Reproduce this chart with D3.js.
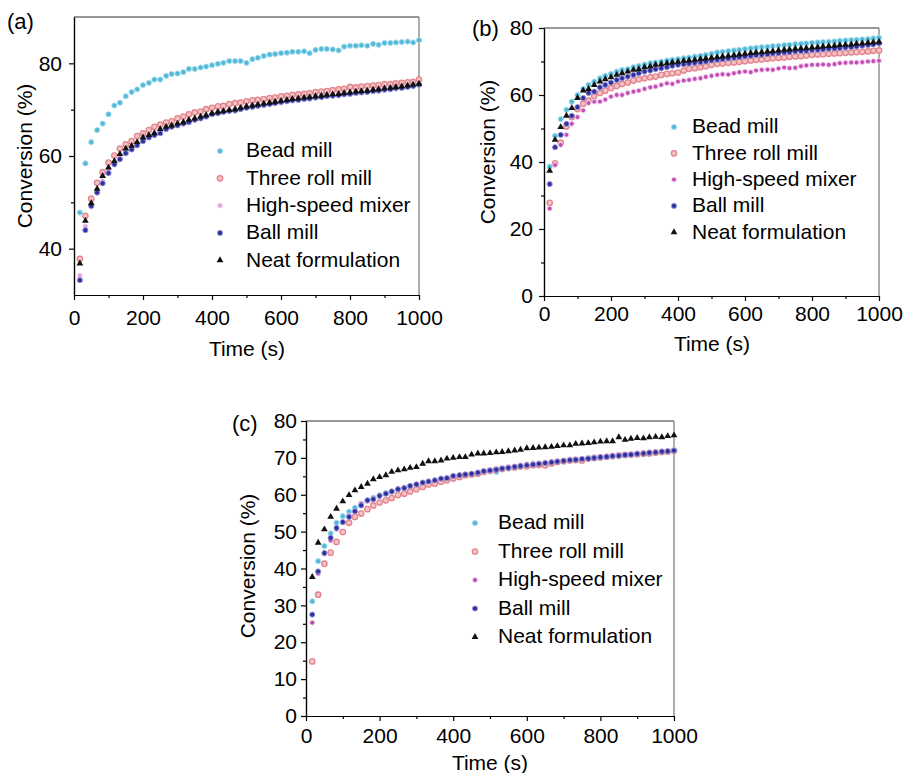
<!DOCTYPE html>
<html>
<head>
<meta charset="utf-8">
<script src="https://cdn.jsdelivr.net/npm/d3@7"></script>
<style>
  body { margin: 0; background: #fff; }
  svg { font-family: "Liberation Sans", Arial, Helvetica, sans-serif; }
  .axis path, .axis line { stroke: #000; stroke-width: 1.2; }
  .axis text { font-size: 21px; fill: #000; font-family: "Liberation Sans", Arial, sans-serif; }
</style>
</head>
<body>
<svg width="909" height="773"></svg>
<script>
// sampling times (s), shared by every series
var times = [17, 33, 50, 67, 83, 100, 117, 133, 150, 167, 183, 200, 217, 233, 250, 267, 283, 300, 317, 333,
  350, 367, 383, 400, 417, 433, 450, 467, 483, 500, 517, 533, 550, 567, 583, 600, 617, 633, 650, 667,
  683, 700, 717, 733, 750, 767, 783, 800, 817, 833, 850, 867, 883, 900, 917, 933, 950, 967, 983, 1000];

var seriesNames = ["Bead mill", "Three roll mill", "High-speed mixer", "Ball mill", "Neat formulation"];

// panel (a)
var aBead = [47.8, 58.4, 63.0, 65.6, 67.0, 69.0, 70.9, 71.5, 72.9, 73.8,
  74.4, 75.3, 75.8, 76.5, 76.5, 77.3, 77.7, 77.8, 78.1, 78.8,
  78.8, 79.1, 79.3, 79.6, 79.9, 80.1, 80.5, 80.5, 80.5, 80.1,
  80.9, 81.2, 81.6, 81.9, 82.0, 82.2, 82.3, 82.5, 82.5, 82.6,
  82.2, 82.9, 83.1, 83.1, 83.0, 82.8, 83.6, 83.8, 83.8, 83.9,
  83.8, 84.2, 84.0, 84.4, 84.4, 84.5, 84.6, 84.7, 84.5, 85.0];
var aThreeRoll = [37.8, 47.1, 50.8, 54.2, 56.5, 58.6, 60.1, 61.6, 62.5, 63.2,
  64.3, 64.9, 65.6, 66.3, 66.8, 67.2, 67.5, 68.1, 68.5, 69.0,
  69.4, 69.6, 70.1, 70.4, 70.7, 70.8, 71.2, 71.4, 71.5, 71.8,
  72.0, 72.1, 72.3, 72.5, 72.6, 72.9, 73.0, 73.2, 73.3, 73.4,
  73.6, 73.8, 73.9, 74.0, 74.2, 74.4, 74.5, 74.9, 74.8, 75.0,
  75.1, 75.2, 75.3, 75.5, 75.5, 75.7, 75.8, 75.9, 76.0, 76.5];
var aHighSpeed = [34.2, 44.8, 49.5, 52.4, 54.6, 56.8, 58.5, 59.6, 61.0, 61.8,
  62.6, 63.5, 64.2, 64.7, 65.3, 66.0, 66.4, 66.8, 67.1, 67.5,
  67.9, 68.3, 68.6, 69.1, 69.3, 69.6, 69.8, 70.0, 70.2, 70.5,
  70.7, 70.9, 71.1, 71.3, 71.5, 71.7, 71.9, 72.1, 72.2, 72.4,
  72.5, 72.7, 72.8, 73.0, 73.1, 73.3, 73.4, 73.6, 73.7, 73.9,
  74.0, 74.1, 74.3, 74.4, 74.6, 74.7, 74.9, 75.0, 75.2, 75.5];
var aBall = [33.2, 44.0, 49.2, 52.1, 54.1, 56.3, 58.2, 59.3, 60.6, 61.4,
  62.3, 63.2, 64.0, 64.5, 64.9, 65.8, 66.3, 66.6, 67.0, 67.3,
  67.8, 68.1, 68.5, 69.0, 69.2, 69.5, 69.7, 69.8, 70.1, 70.4,
  70.6, 70.8, 71.0, 71.2, 71.4, 71.6, 71.8, 72.0, 72.1, 72.3,
  72.4, 72.6, 72.7, 72.9, 73.0, 73.1, 73.3, 73.4, 73.6, 73.7,
  73.8, 74.0, 74.1, 74.3, 74.4, 74.6, 74.7, 74.9, 75.1, 75.4];
var aNeat = [36.8, 46.0, 49.8, 52.9, 55.7, 57.5, 58.9, 60.4, 61.6, 62.2,
  63.0, 64.0, 64.5, 64.9, 65.8, 66.3, 66.6, 67.0, 67.3, 67.8,
  68.1, 68.5, 68.8, 69.2, 69.5, 69.7, 69.9, 70.1, 70.4, 70.7,
  70.9, 71.1, 71.3, 71.5, 71.7, 71.9, 72.1, 72.3, 72.4, 72.6,
  72.7, 72.9, 73.0, 73.2, 73.3, 73.4, 73.6, 73.7, 73.9, 74.0,
  74.1, 74.3, 74.4, 74.6, 74.7, 74.9, 75.0, 75.2, 75.4, 75.6];

// panel (b)
var bBead = [38.6, 47.8, 52.8, 55.6, 58.0, 60.0, 61.8, 63.0, 64.0, 65.0,
  65.7, 66.3, 67.0, 67.5, 67.7, 68.3, 68.7, 69.1, 69.5, 69.7,
  70.0, 70.3, 70.5, 70.7, 71.0, 71.2, 71.5, 71.7, 72.0, 72.3,
  72.7, 72.9, 73.1, 73.3, 73.5, 73.7, 73.9, 74.1, 74.3, 74.4,
  74.6, 74.7, 74.9, 75.0, 75.2, 75.3, 75.4, 75.6, 75.7, 75.8,
  75.9, 76.0, 76.2, 76.3, 76.4, 76.5, 76.6, 76.7, 76.9, 77.1];
var bThreeRoll = [27.8, 39.6, 45.8, 50.6, 53.4, 55.8, 57.4, 58.3, 59.7, 60.6,
  61.3, 62.1, 62.7, 63.3, 63.7, 64.3, 64.7, 65.0, 65.3, 65.5,
  66.0, 66.3, 66.5, 66.7, 67.3, 67.8, 68.0, 68.3, 68.6, 69.0,
  69.3, 69.4, 69.6, 69.7, 69.9, 70.1, 70.3, 70.5, 70.6, 70.8,
  71.0, 71.1, 71.2, 71.4, 71.5, 71.6, 71.8, 72.0, 72.1, 72.2,
  72.3, 72.4, 72.5, 72.6, 72.7, 72.8, 72.9, 73.0, 73.2, 73.3];
var bHighSpeed = [26.1, 39.1, 45.1, 48.1, 51.4, 53.4, 55.4, 57.6, 58.0, 58.0,
  58.6, 59.5, 60.0, 60.0, 60.6, 61.0, 61.3, 61.8, 62.3, 62.5,
  63.0, 63.5, 63.3, 64.0, 64.3, 64.5, 64.8, 65.0, 65.4, 65.7,
  66.0, 66.2, 66.1, 66.5, 66.8, 67.0, 66.8, 67.3, 67.5, 67.6,
  67.5, 67.9, 68.2, 68.0, 68.1, 68.6, 68.8, 69.0, 69.0, 69.1,
  69.0, 69.2, 69.5, 69.6, 69.7, 69.7, 69.8, 70.0, 70.1, 70.2];
var bBall = [33.4, 44.4, 48.1, 51.4, 53.8, 56.4, 59.1, 60.6, 61.0, 62.3,
  63.0, 63.7, 64.5, 65.0, 65.5, 66.0, 66.5, 67.0, 67.3, 67.7,
  68.0, 68.3, 68.7, 69.0, 69.2, 69.4, 69.6, 69.8, 70.0, 70.3,
  70.5, 70.7, 70.9, 71.1, 71.3, 71.5, 71.7, 71.9, 72.0, 72.2,
  72.4, 72.5, 72.7, 72.8, 73.0, 73.1, 73.2, 73.4, 73.5, 73.6,
  73.8, 73.9, 74.0, 74.2, 74.3, 74.5, 74.7, 74.9, 75.1, 75.4];
var bNeat = [37.4, 46.6, 50.4, 53.8, 56.1, 59.1, 61.3, 61.8, 63.0, 64.0,
  64.7, 65.3, 66.0, 66.5, 67.0, 67.5, 67.7, 68.3, 68.5, 69.0,
  69.2, 69.5, 69.7, 69.9, 70.2, 70.3, 70.5, 70.7, 70.9, 71.1,
  71.3, 71.5, 71.7, 71.9, 72.1, 72.3, 72.5, 72.7, 72.8, 73.0,
  73.1, 73.3, 73.5, 73.6, 73.8, 73.9, 74.0, 74.2, 74.3, 74.5,
  74.6, 74.7, 74.9, 75.0, 75.1, 75.3, 75.4, 75.6, 75.7, 75.9];

// panel (c)
var cBead = [31.1, 42.0, 46.1, 49.5, 52.4, 54.2, 55.4, 56.5, 57.6, 58.4,
  59.2, 59.9, 60.5, 60.8, 61.4, 61.9, 62.3, 62.7, 63.1, 63.5,
  63.9, 64.2, 64.5, 64.8, 65.0, 65.3, 65.6, 66.0, 66.3, 66.5,
  66.2, 67.0, 67.1, 67.4, 67.5, 67.9, 68.0, 68.3, 68.5, 68.7,
  68.9, 69.1, 69.3, 69.4, 69.6, 69.8, 69.9, 70.1, 70.2, 70.4,
  70.5, 70.7, 70.8, 71.0, 71.1, 71.3, 71.4, 71.5, 71.7, 71.9];
var cThreeRoll = [14.8, 32.9, 41.3, 44.3, 47.2, 49.9, 52.4, 54.0, 54.9, 56.1,
  57.1, 57.9, 58.5, 59.1, 59.9, 60.3, 60.9, 61.5, 62.1, 62.8,
  63.0, 63.5, 63.9, 64.4, 64.8, 65.3, 65.5, 65.7, 66.2, 66.5,
  66.8, 67.0, 67.3, 67.4, 67.7, 67.7, 68.0, 68.1, 68.0, 68.5,
  68.9, 69.1, 69.3, 69.4, 69.3, 69.8, 70.0, 70.1, 70.3, 70.5,
  70.7, 70.8, 70.9, 71.0, 71.1, 71.2, 71.4, 71.6, 71.7, 71.9];
var cHighSpeed = [25.3, 38.6, 44.0, 47.6, 50.6, 52.4, 54.4, 55.5, 57.6, 58.2,
  58.9, 59.6, 60.4, 60.9, 61.6, 62.0, 62.4, 62.9, 63.2, 63.7,
  64.0, 64.3, 64.6, 65.0, 65.2, 65.5, 65.8, 66.1, 66.3, 66.7,
  66.9, 67.3, 67.5, 67.7, 68.0, 68.3, 68.5, 68.6, 68.8, 69.0,
  69.2, 69.3, 69.6, 69.7, 69.8, 70.0, 70.2, 70.3, 70.5, 70.7,
  70.8, 71.0, 71.1, 71.3, 71.4, 71.6, 71.7, 71.8, 72.0, 72.2];
var cBall = [27.5, 39.2, 44.2, 48.3, 51.0, 52.6, 54.0, 55.5, 57.1, 58.5,
  58.8, 59.7, 60.3, 60.9, 61.5, 61.8, 62.4, 62.8, 63.3, 63.6,
  63.9, 64.4, 64.5, 65.1, 65.3, 65.5, 65.7, 66.0, 66.4, 66.6,
  66.8, 67.1, 67.3, 67.6, 67.8, 68.0, 68.2, 68.4, 68.6, 68.8,
  69.0, 69.2, 69.4, 69.5, 69.7, 69.8, 70.0, 70.2, 70.3, 70.5,
  70.6, 70.8, 70.9, 71.1, 71.2, 71.4, 71.5, 71.7, 71.8, 72.0];
var cNeat = [37.7, 47.0, 50.6, 54.0, 56.2, 58.2, 59.9, 61.2, 62.1, 63.0,
  64.2, 64.8, 65.3, 66.2, 66.6, 66.9, 67.3, 67.5, 68.4, 69.1,
  69.1, 69.3, 69.8, 70.0, 70.2, 70.2, 70.9, 71.2, 71.2, 71.3,
  71.5, 71.6, 71.8, 72.0, 72.2, 72.6, 72.7, 72.8, 72.9, 73.0,
  73.2, 73.4, 73.4, 73.8, 73.9, 74.0, 74.2, 74.4, 74.5, 74.5,
  75.6, 74.9, 75.2, 75.4, 75.3, 75.6, 75.7, 75.6, 75.9, 76.1];

var xMajor = [0, 200, 400, 600, 800, 1000],
    xMinor = [100, 300, 500, 700, 900];

var panels = [
  { tag: "(a)", series: [aBead, aThreeRoll, aHighSpeed, aBall, aNeat],
    yDomain: [30, 90], yMajor: [40, 60, 80], yMinor: [50, 70],
    left: 74, right: 419, top: 17, bottom: 295, xPad: 10, yPad: 7, hsColor: "#e6a3da",
    tagPos: [7, 29], yTitle: [25, 156], xTitle: [247, 356],
    legend: { mx: 220, tx: 246, y0: 151, dy: 27.3 } },
  { tag: "(b)", series: [bBead, bThreeRoll, bHighSpeed, bBall, bNeat],
    yDomain: [0, 80], yMajor: [0, 20, 40, 60, 80], yMinor: [10, 30, 50, 70],
    left: 544, right: 879, top: 28, bottom: 296, xPad: 5, yPad: 6, hsColor: "#c24db6",
    tagPos: [472, 36], yTitle: [488, 152], xTitle: [712, 351],
    legend: { mx: 674, tx: 692, y0: 127, dy: 26.3 } },
  { tag: "(c)", series: [cBead, cThreeRoll, cHighSpeed, cBall, cNeat],
    yDomain: [0, 80], yMajor: [0, 10, 20, 30, 40, 50, 60, 70, 80], yMinor: [5, 15, 25, 35, 45, 55, 65, 75],
    left: 306, right: 674, top: 421, bottom: 716, xPad: 7, yPad: 4, hsColor: "#bf45b2",
    tagPos: [232, 431], yTitle: [248, 566], xTitle: [490, 770],
    legend: { mx: 475, tx: 498, y0: 523, dy: 28.5 } }
];

var svg = d3.select("svg");

function drawMarker(sel, k, p) {
  // k: series index
  if (k == 4) {
    sel.append("path")
      .attr("d", d3.symbol().type(d3.symbolTriangle).size(20))
      .style("fill", "#111");
  } else if (k == 0) {
    sel.append("circle").attr("r", 2.6)
      .style("fill", "#52bad9").style("stroke", "#a9dcec").style("stroke-width", 0.9);
  } else if (k == 1) {
    sel.append("circle").attr("r", 2.7)
      .style("fill", "#f5c3c6").style("stroke", "#e2858c").style("stroke-width", 1.3);
  } else if (k == 2) {
    sel.append("circle").attr("r", 2.4)
      .style("fill", p.hsColor).style("stroke", "#f0d0ec").style("stroke-width", 0.9);
  } else {
    sel.append("circle").attr("r", 2.6)
      .style("fill", "#2f2fa2").style("stroke", "#9c9cd6").style("stroke-width", 0.9);
  }
}

panels.forEach(function (p) {
  var x = d3.scaleLinear().domain([0, 1000]).range([p.left, p.right]),
      y = d3.scaleLinear().domain(p.yDomain).range([p.bottom, p.top]);

  var g = svg.append("g");

  // frame top and right
  g.append("line").attr("x1", p.left).attr("x2", p.right).attr("y1", p.top).attr("y2", p.top)
    .style("stroke", "#333").style("stroke-width", 1.2);
  g.append("line").attr("x1", p.right).attr("x2", p.right).attr("y1", p.top).attr("y2", p.bottom)
    .style("stroke", "#777").style("stroke-width", 1.2);

  // minor ticks
  g.append("g").attr("class", "axis")
    .attr("transform", "translate(0," + p.bottom + ")")
    .call(d3.axisBottom(x).tickValues(xMinor).tickSize(3).tickSizeOuter(0).tickFormat(""));
  g.append("g").attr("class", "axis")
    .attr("transform", "translate(" + p.left + ",0)")
    .call(d3.axisLeft(y).tickValues(p.yMinor).tickSize(3).tickSizeOuter(0).tickFormat(""));

  // major ticks + labels
  g.append("g").attr("class", "axis")
    .attr("transform", "translate(0," + p.bottom + ")")
    .call(d3.axisBottom(x).tickValues(xMajor).tickSize(5).tickSizeOuter(0)
      .tickPadding(p.xPad).tickFormat(d3.format("d")));
  g.append("g").attr("class", "axis")
    .attr("transform", "translate(" + p.left + ",0)")
    .call(d3.axisLeft(y).tickValues(p.yMajor).tickSize(5).tickSizeOuter(0)
      .tickPadding(p.yPad).tickFormat(d3.format("d")));

  // data points
  p.series.forEach(function (vals, k) {
    var pts = g.append("g").selectAll("g")
      .data(vals)
      .enter().append("g")
        .attr("transform", function (d, i) { return "translate(" + x(times[i]) + "," + y(d) + ")"; });
    pts.each(function () { drawMarker(d3.select(this), k, p); });
  });

  // legend
  seriesNames.forEach(function (name, k) {
    var ly = p.legend.y0 + k * p.legend.dy;
    var m = g.append("g").attr("transform", "translate(" + p.legend.mx + "," + ly + ")");
    drawMarker(m, k, p);
    g.append("text")
      .attr("x", p.legend.tx)
      .attr("y", ly - 1)
      .attr("dy", "0.35em")
      .style("font-size", "21px")
      .style("fill", "#000")
      .text(name);
  });

  // titles
  g.append("text")
    .attr("x", p.xTitle[0]).attr("y", p.xTitle[1])
    .attr("text-anchor", "middle")
    .style("font-size", "21px").style("fill", "#000")
    .text("Time (s)");
  g.append("text")
    .attr("transform", "translate(" + p.yTitle[0] + "," + p.yTitle[1] + ") rotate(-90)")
    .attr("text-anchor", "middle")
    .attr("dy", "0.35em")
    .style("font-size", "21px").style("fill", "#000")
    .text("Conversion (%)");
  g.append("text")
    .attr("x", p.tagPos[0]).attr("y", p.tagPos[1])
    .style("font-size", "22px").style("fill", "#000")
    .text(p.tag);
});
</script>
</body>
</html>
